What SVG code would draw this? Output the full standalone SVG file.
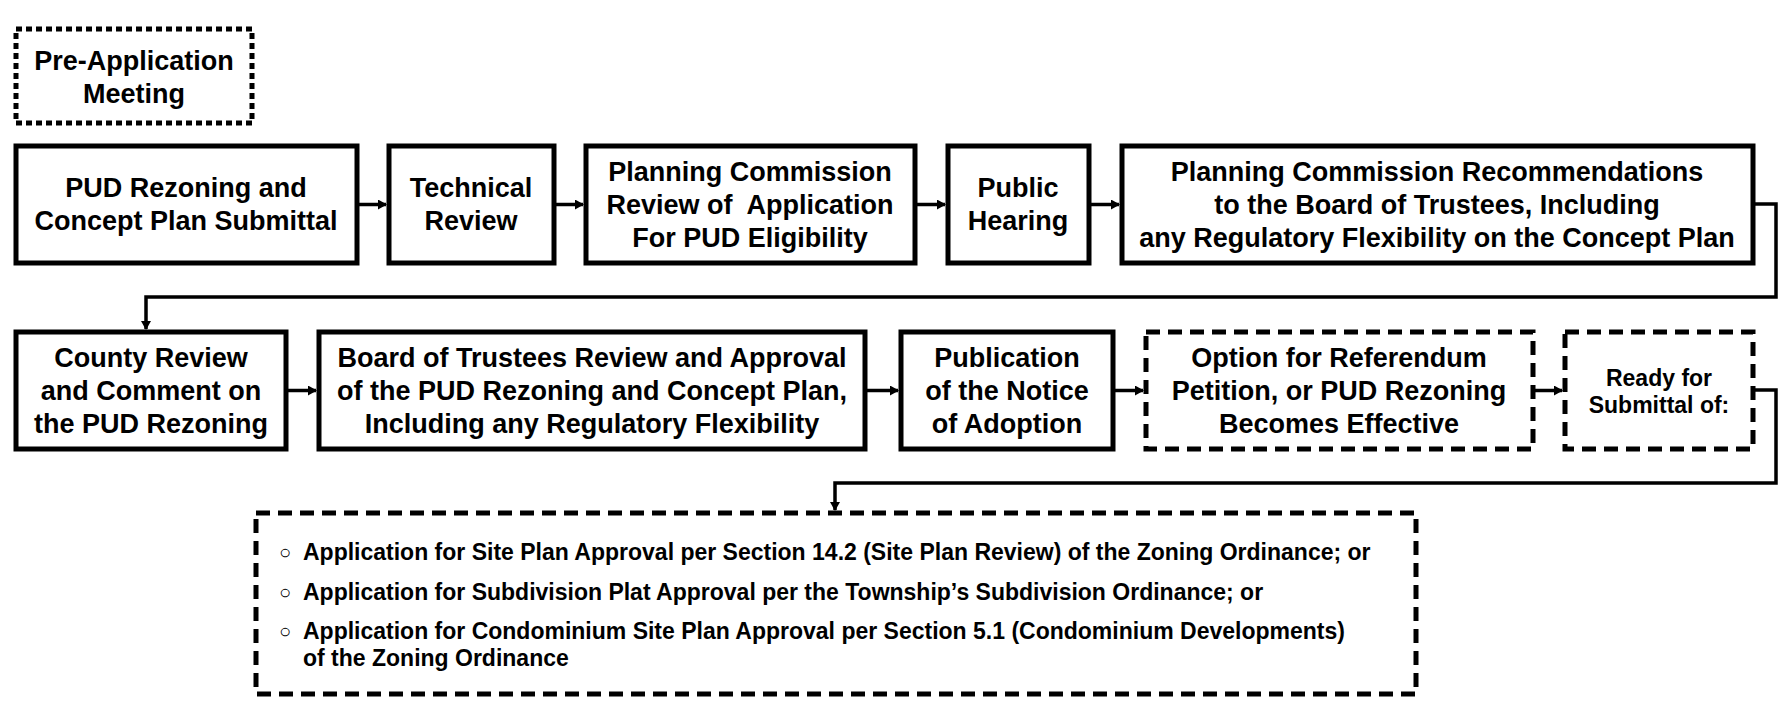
<svg xmlns="http://www.w3.org/2000/svg" width="1790" height="723" viewBox="0 0 1790 723">
<style>
.b{fill:#fff;stroke:#000;stroke-width:5}
.d{stroke-dasharray:14 8}
.p{stroke-dasharray:6 4}
text{font-family:"Liberation Sans",Arial,sans-serif;font-weight:bold;fill:#000;text-anchor:middle;font-size:27px}
.s{font-size:23px}
.l{font-size:23px;text-anchor:start}
.c{fill:none;stroke:#000;stroke-width:3.5}
</style>
<defs><marker id="a" markerWidth="9" markerHeight="10" refX="8" refY="5" orient="auto" markerUnits="userSpaceOnUse"><path d="M0,0L9,5L0,10z" fill="#000"/></marker></defs>
<rect width="1790" height="723" fill="#fff"/>
<g id="connectors">
<path class="c" d="M359,204.5H386" marker-end="url(#a)"/>
<path class="c" d="M556,204.5H583" marker-end="url(#a)"/>
<path class="c" d="M917,204.5H945" marker-end="url(#a)"/>
<path class="c" d="M1091,204.5H1119" marker-end="url(#a)"/>
<path class="c" d="M1755,204H1776V297H146V329" marker-end="url(#a)"/>
<path class="c" d="M288,390.5H316" marker-end="url(#a)"/>
<path class="c" d="M867,390.5H898" marker-end="url(#a)"/>
<path class="c" d="M1115,390.5H1143" marker-end="url(#a)"/>
<path class="c" d="M1535,390.5H1562" marker-end="url(#a)"/>
<path class="c" d="M1755,390H1776V483H835V510" marker-end="url(#a)"/>
</g>
<g id="preapp"><rect class="b p" x="16" y="29" width="236" height="94"/><text x="134" y="70">Pre-Application</text><text x="134" y="103">Meeting</text></g>
<g id="n1"><rect class="b" x="16" y="146" width="341" height="117"/><text x="186" y="197">PUD Rezoning and</text><text x="186" y="230">Concept Plan Submittal</text></g>
<g id="n2"><rect class="b" x="389" y="146" width="165" height="117"/><text x="471" y="197">Technical</text><text x="471" y="230">Review</text></g>
<g id="n3"><rect class="b" x="586" y="146" width="329" height="117"/><text x="750" y="181">Planning Commission</text><text x="750" y="214" xml:space="preserve">Review of  Application</text><text x="750" y="247">For PUD Eligibility</text></g>
<g id="n4"><rect class="b" x="948" y="146" width="141" height="117"/><text x="1018" y="197">Public</text><text x="1018" y="230">Hearing</text></g>
<g id="n5"><rect class="b" x="1122" y="146" width="631" height="117"/><text x="1437" y="181">Planning Commission Recommendations</text><text x="1437" y="214">to the Board of Trustees, Including</text><text x="1437" y="247">any Regulatory Flexibility on the Concept Plan</text></g>
<g id="n6"><rect class="b" x="16" y="332" width="270" height="117"/><text x="151" y="367">County Review</text><text x="151" y="400">and Comment on</text><text x="151" y="433">the PUD Rezoning</text></g>
<g id="n7"><rect class="b" x="319" y="332" width="546" height="117"/><text x="592" y="367">Board of Trustees Review and Approval</text><text x="592" y="400">of the PUD Rezoning and Concept Plan,</text><text x="592" y="433">Including any Regulatory Flexibility</text></g>
<g id="n8"><rect class="b" x="901" y="332" width="212" height="117"/><text x="1007" y="367">Publication</text><text x="1007" y="400">of the Notice</text><text x="1007" y="433">of Adoption</text></g>
<g id="n9"><rect class="b d" x="1146" y="332" width="387" height="117"/><text x="1339" y="367">Option for Referendum</text><text x="1339" y="400">Petition, or PUD Rezoning</text><text x="1339" y="433">Becomes Effective</text></g>
<g id="n10"><rect class="b d" x="1565" y="332" width="188" height="117"/><text class="s" x="1659" y="386">Ready for</text><text class="s" x="1659" y="413">Submittal of:</text></g>
<g id="n11"><rect class="b d" x="256" y="513" width="1160" height="181"/>
<text class="l" x="279" y="559" style="font-weight:normal;font-size:20px">○</text><text class="l" x="303" y="560">Application for Site Plan Approval per Section 14.2 (Site Plan Review) of the Zoning Ordinance; or</text>
<text class="l" x="279" y="599" style="font-weight:normal;font-size:20px">○</text><text class="l" x="303" y="600">Application for Subdivision Plat Approval per the Township’s Subdivision Ordinance; or</text>
<text class="l" x="279" y="638" style="font-weight:normal;font-size:20px">○</text><text class="l" x="303" y="639">Application for Condominium Site Plan Approval per Section 5.1 (Condominium Developments)</text>
<text class="l" x="303" y="666">of the Zoning Ordinance</text></g>
</svg>
